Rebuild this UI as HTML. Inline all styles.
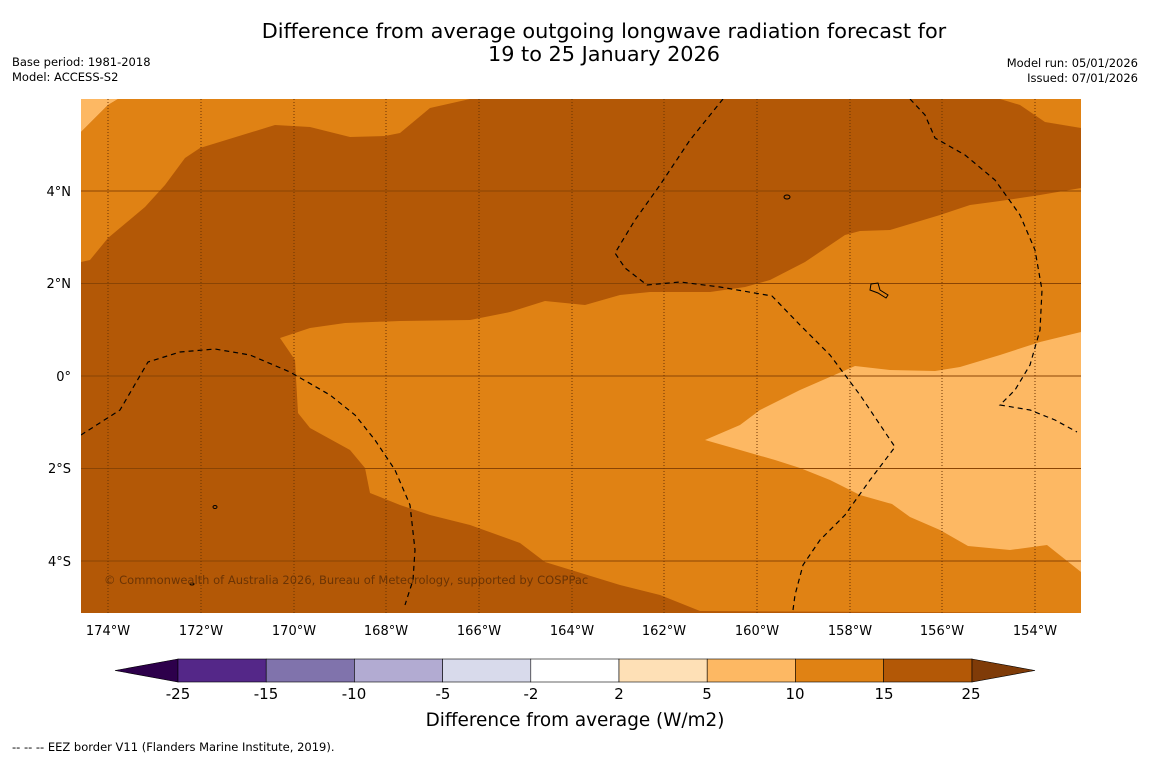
<!DOCTYPE html>
<html><head><meta charset="utf-8"><style>
body{margin:0;background:#fff;width:1150px;height:758px;overflow:hidden;font-family:"DejaVu Sans","Liberation Sans",sans-serif;}
</style></head><body>
<svg width="1150" height="758" viewBox="0 0 1150 758" font-family="DejaVu Sans, Liberation Sans, sans-serif">
<rect width="1150" height="758" fill="#fff"/>
<text x="604" y="38" font-size="20.8" text-anchor="middle" fill="#000">Difference from average outgoing longwave radiation forecast for</text>
<text x="604" y="61" font-size="20.8" text-anchor="middle" fill="#000">19 to 25 January 2026</text>
<text x="12" y="66" font-size="11.5">Base period: 1981-2018</text>
<text x="12" y="81" font-size="11.5">Model: ACCESS-S2</text>
<text x="1138" y="67" font-size="11.5" text-anchor="end">Model run: 05/01/2026</text>
<text x="1138" y="82" font-size="11.5" text-anchor="end">Issued: 07/01/2026</text>
<defs><clipPath id="mc"><rect x="81" y="99" width="1000" height="514"/></clipPath></defs>
<g clip-path="url(#mc)">
<rect x="81" y="99" width="1000" height="514" fill="#b35806"/>
<polygon fill="#fdb863" points="81,99 118,99 108,105 81,132"/>
<polygon fill="#e08214" points="81,132 108,105 118,99 470,99 430,108 400,133 385,136 350,137 310,127 275,125 200,148 185,158 165,185 145,207 108,238 90,260 81,262"/>
<polygon fill="#e08214" points="1000,99 1020,105 1045,122 1081,128 1081,99"/>
<polygon fill="#e08214" points="280,338 310,328 345,323 400,321 470,320 510,312 545,301 585,305 620,295 650,292 710,292 745,287 770,280 805,262 845,235 860,231 890,230 940,215 970,205 1000,201 1040,195 1081,188 1081,613 700,611 660,595 620,585 545,562 520,543 470,525 430,515 400,505 370,493 365,468 350,450 310,428 298,413 295,360"/>
<polygon fill="#fdb863" points="705,440 740,425 760,410 800,390 855,366 890,370 935,371 960,367 1000,355 1040,342 1081,332 1081,572 1047,545 1010,550 968,546 940,530 910,517 892,504 860,495 830,480 800,468 775,460 740,450"/>
<g stroke="#8a4404" stroke-width="1">
<line x1="81" x2="1081" y1="191" y2="191"/><line x1="81" x2="1081" y1="283.5" y2="283.5"/><line x1="81" x2="1081" y1="376" y2="376"/><line x1="81" x2="1081" y1="468.5" y2="468.5"/><line x1="81" x2="1081" y1="561" y2="561"/>
<g stroke-dasharray="1,2" stroke="#6a3304">
<line x1="108" x2="108" y1="99" y2="613"/><line x1="201" x2="201" y1="99" y2="613"/><line x1="294" x2="294" y1="99" y2="613"/><line x1="386" x2="386" y1="99" y2="613"/><line x1="479" x2="479" y1="99" y2="613"/><line x1="572" x2="572" y1="99" y2="613"/><line x1="664" x2="664" y1="99" y2="613"/><line x1="757" x2="757" y1="99" y2="613"/><line x1="850" x2="850" y1="99" y2="613"/><line x1="942" x2="942" y1="99" y2="613"/><line x1="1035" x2="1035" y1="99" y2="613"/>
</g></g>
<g fill="none" stroke="#000" stroke-width="1.2" stroke-dasharray="5,4">
<polyline points="81,435 120,410 148,362 180,352 215,349 250,355 290,372 330,395 355,415 375,440 395,470 410,505 415,550 413,580 405,605"/>
<polyline points="723,99 690,140 660,185 635,220 615,253 625,268 647,285 680,282 720,287 772,296 800,325 830,355 860,395 895,447 870,480 845,515 820,540 803,565 795,595 793,610"/>
<polyline points="910,99 925,115 935,138 965,155 995,180 1020,215 1035,250 1042,290 1040,330 1030,365 1015,390 1000,405 1030,410 1055,420 1077,432"/>
</g>
<g fill="none" stroke="#000" stroke-width="1">
<ellipse cx="787" cy="197" rx="3" ry="2"/><path d="M871,284 L878,283 L880,290 L888,295 L886,298 L878,293 L870,290 Z"/><ellipse cx="215" cy="507" rx="2" ry="1.5"/><ellipse cx="192" cy="584" rx="2" ry="1"/>
</g>
<text x="104" y="584" font-size="11.5" fill="#6b3405">© Commonwealth of Australia 2026, Bureau of Meteorology, supported by COSPPac</text>
</g>
<g font-size="13" fill="#000">
<text x="71" y="196" text-anchor="end">4°N</text><text x="71" y="288" text-anchor="end">2°N</text><text x="71" y="381" text-anchor="end">0°</text><text x="71" y="473" text-anchor="end">2°S</text><text x="71" y="566" text-anchor="end">4°S</text>
</g>
<g font-size="13" fill="#000" text-anchor="middle">
<text x="108" y="635">174°W</text><text x="201" y="635">172°W</text><text x="294" y="635">170°W</text><text x="386" y="635">168°W</text><text x="479" y="635">166°W</text><text x="572" y="635">164°W</text><text x="664" y="635">162°W</text><text x="757" y="635">160°W</text><text x="850" y="635">158°W</text><text x="942" y="635">156°W</text><text x="1035" y="635">154°W</text>
</g>
<g stroke="#000" stroke-width="0.6">
<polygon points="178,659 115,670.5 178,682" fill="#2d004b"/>
<rect x="178" y="659" width="88.2" height="23" fill="#542788"/>
<rect x="266.2" y="659" width="88.2" height="23" fill="#8073ac"/>
<rect x="354.4" y="659" width="88.2" height="23" fill="#b2abd2"/>
<rect x="442.6" y="659" width="88.2" height="23" fill="#d8daeb"/>
<rect x="530.8" y="659" width="88.2" height="23" fill="#ffffff"/>
<rect x="619" y="659" width="88.2" height="23" fill="#fee0b6"/>
<rect x="707.2" y="659" width="88.2" height="23" fill="#fdb863"/>
<rect x="795.4" y="659" width="88.2" height="23" fill="#e08214"/>
<rect x="883.6" y="659" width="88.4" height="23" fill="#b35806"/>
<polygon points="972,659 1035,670.5 972,682" fill="#7f3b08"/>
</g>
<g font-size="15" text-anchor="middle" fill="#000">
<text x="178" y="699">-25</text><text x="266" y="699">-15</text><text x="354" y="699">-10</text><text x="443" y="699">-5</text><text x="531" y="699">-2</text><text x="619" y="699">2</text><text x="707" y="699">5</text><text x="795" y="699">10</text><text x="884" y="699">15</text><text x="971" y="699">25</text>
</g>
<text x="575" y="726" font-size="18.4" text-anchor="middle">Difference from average (W/m2)</text>
<text x="12" y="751" font-size="11.5">--  --  -- EEZ border V11 (Flanders Marine Institute, 2019).</text>
</svg>
</body></html>
